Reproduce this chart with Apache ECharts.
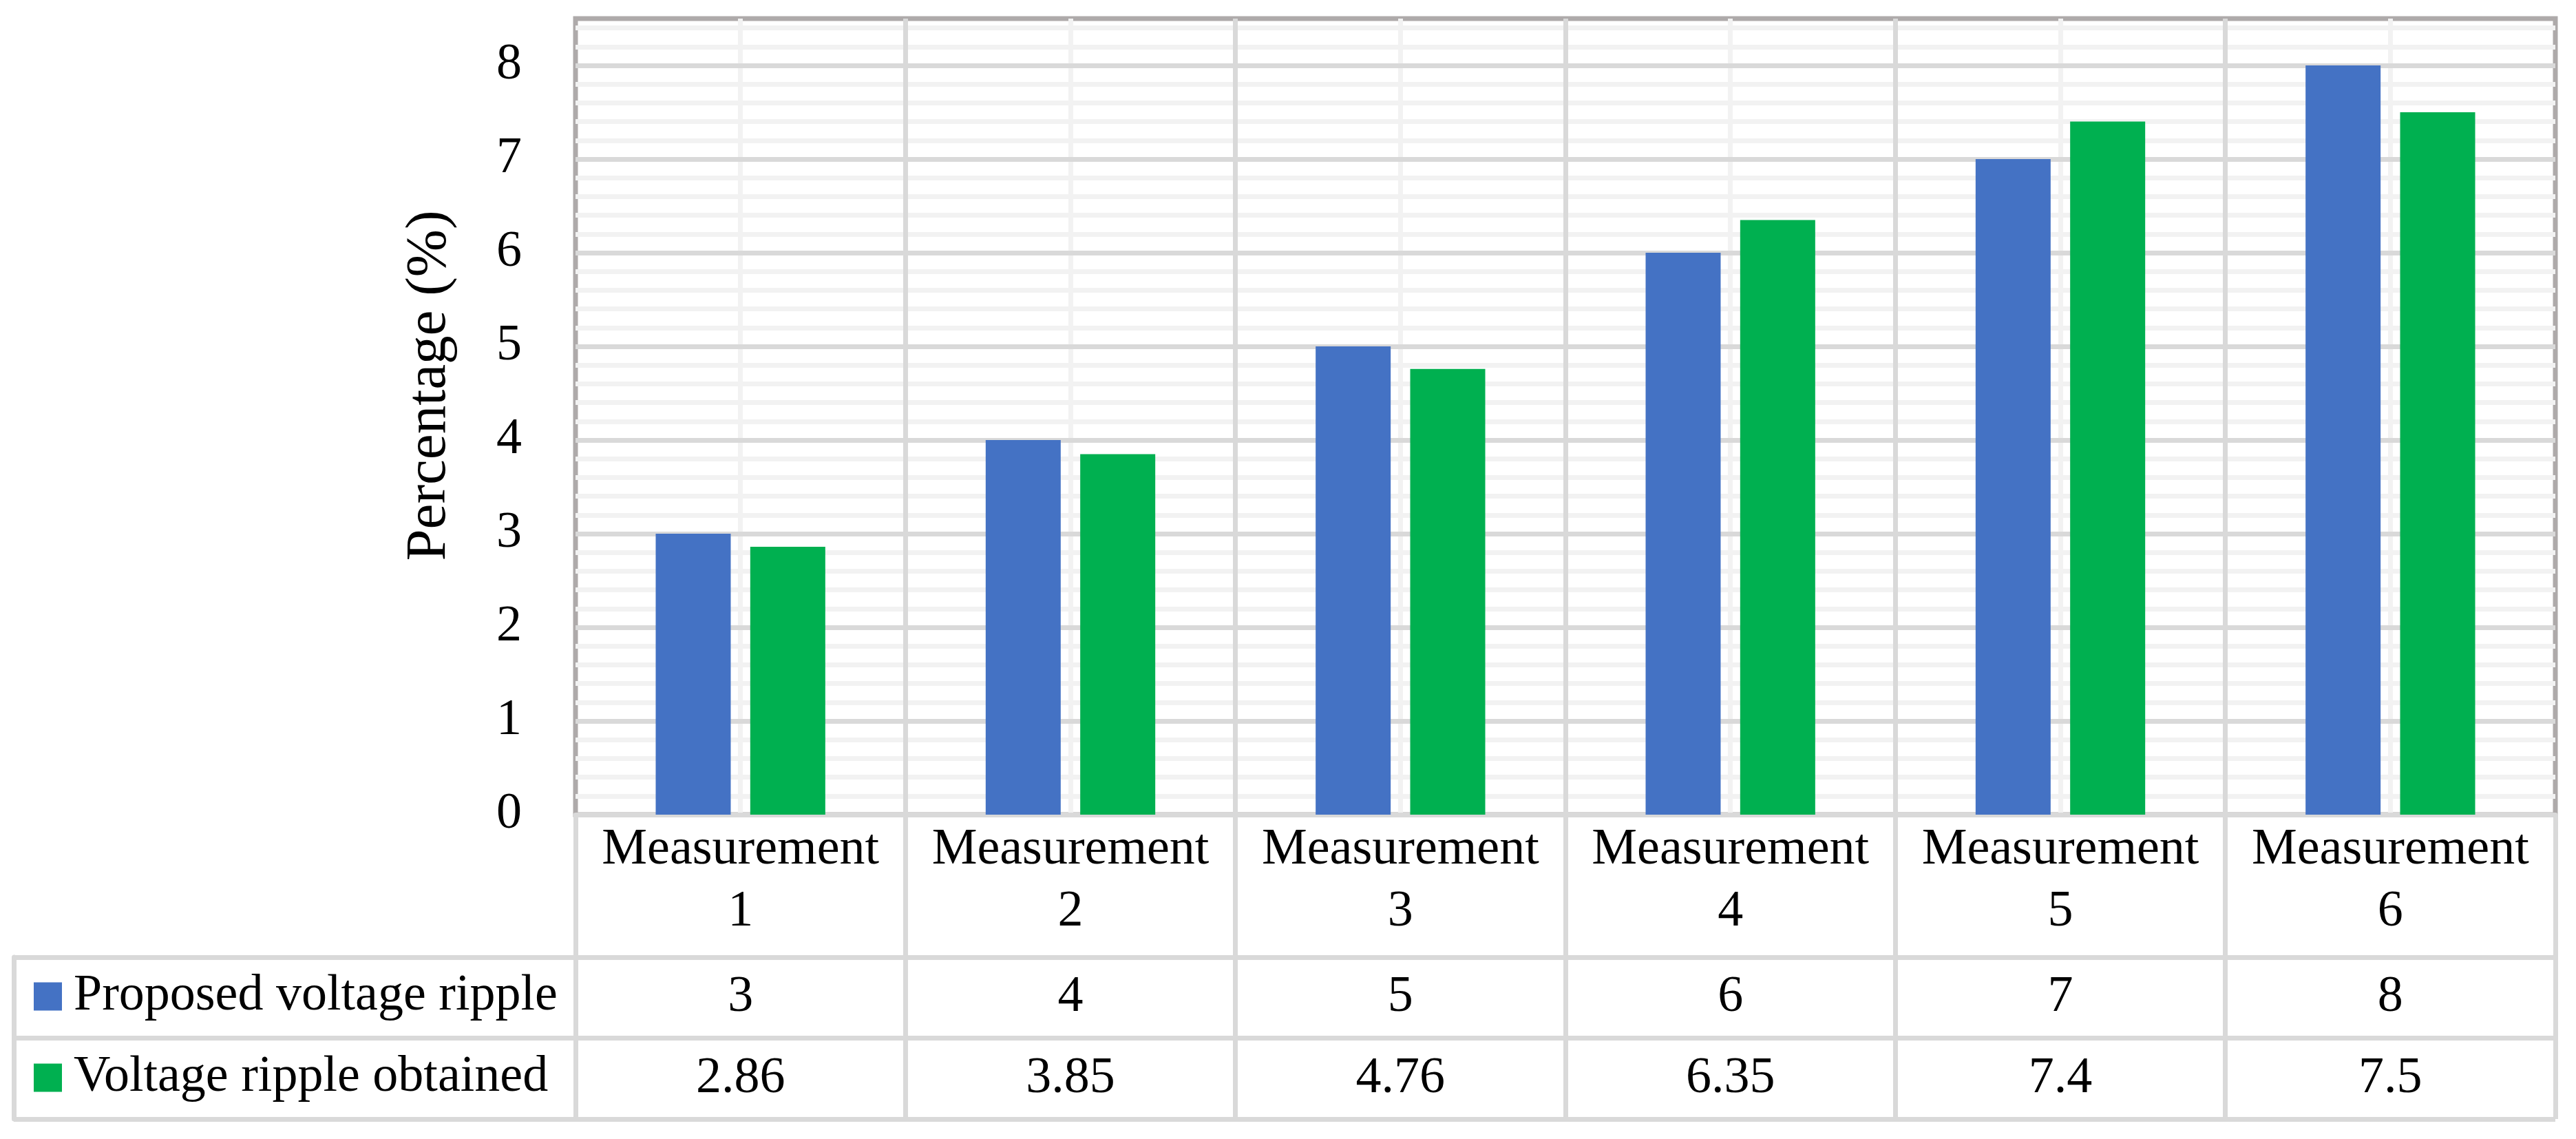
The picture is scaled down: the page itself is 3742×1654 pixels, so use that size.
<!DOCTYPE html>
<html><head><meta charset="utf-8">
<script src="https://cdn.jsdelivr.net/npm/echarts@6/dist/echarts.min.js"></script>
<style>html,body{margin:0;padding:0;background:#fff}#c{width:3742px;height:1654px}</style>
</head><body><div id="c"></div>
<script>
// ---- data ----
const categories = ['Measurement 1', 'Measurement 2', 'Measurement 3', 'Measurement 4', 'Measurement 5', 'Measurement 6'];
const seriesNames = ['Proposed voltage ripple', 'Voltage ripple obtained'];
const proposedRipple = [3, 4, 5, 6, 7, 8];
const obtainedRipple = [2.86, 3.85, 4.76, 6.35, 7.4, 7.5];
const yMin = 0, yMax = 8.5, yStep = 1, yMinorStep = 0.2;
const yTitle = 'Percentage (%)';

// ---- style ----
const FONT = 'Liberation Serif';
const BLUE = '#4472C4', GREEN = '#00B050';
const MAJOR = '#d9d9d9', MINOR = '#f2f2f2', FRAME = '#aeaaaa';
const LW = 7;
const FS = 74;

const hidden = {show: false};
const tableCellSeries = (name, vals, row) => ({
  name, type: 'scatter', xAxisIndex: 3, yAxisIndex: 3,
  data: vals.map((v, i) => [i, row, v]),
  symbolSize: 1, itemStyle: {color: 'rgba(0,0,0,0)'}, silent: true,
  emphasis: {disabled: true},
  label: {show: true, position: 'inside', formatter: p => String(p.value[2]), opacity: 1,
          fontSize: FS, fontFamily: FONT, color: '#000'}
});

const option = {
  backgroundColor: '#fff',
  animation: false,
  textStyle: {fontFamily: FONT},
  grid: [
    {left: 836, top: 27, width: 2876, height: 1156, show: true, borderColor: FRAME, borderWidth: LW, backgroundColor: 'transparent'},
    {left: 836, top: 1183, width: 2876, height: 207},
    {left: 836, top: 1390, width: 2876, height: 235},
    {left: 20, top: 1390, width: 816, height: 235}
  ],
  legend: {
    data: seriesNames, orient: 'vertical', left: 49, top: 1409, padding: 0,
    itemWidth: 41, itemHeight: 41, itemGap: 42, icon: 'rect',
    textStyle: {fontSize: FS, lineHeight: 76, fontFamily: FONT, color: '#000', padding: [0, 0, 0, 12]}
  },
  xAxis: [
    {type: 'category', gridIndex: 0, data: categories, z: 1,
     axisLine: {show: true, lineStyle: {color: MAJOR, width: LW}},
     axisTick: hidden,
     axisLabel: {interval: 0, formatter: v => v.replace(' ', '\n'), fontSize: FS, lineHeight: 90,
                 margin: 7, color: '#000', fontFamily: FONT},
     splitLine: {show: true, showMinLine: false, showMaxLine: false, lineStyle: {color: MAJOR, width: LW}}},
    {type: 'value', gridIndex: 0, min: 0, max: categories.length, interval: 1, z: 0,
     axisLine: hidden, axisTick: hidden, axisLabel: hidden, splitLine: hidden,
     minorTick: {show: false, splitNumber: 2},
     minorSplitLine: {show: true, lineStyle: {color: MINOR, width: LW}}},
    {type: 'category', gridIndex: 1, data: categories,
     axisLine: hidden, axisTick: hidden, axisLabel: hidden,
     splitLine: {show: true, lineStyle: {color: MAJOR, width: LW}}},
    {type: 'category', gridIndex: 2, data: categories,
     axisLine: hidden, axisTick: hidden, axisLabel: hidden,
     splitLine: {show: true, lineStyle: {color: MAJOR, width: LW}}},
    {type: 'value', gridIndex: 3, show: false}
  ],
  yAxis: [
    {type: 'value', gridIndex: 0, min: yMin, max: yMax, interval: yStep, z: 1,
     axisLine: hidden, axisTick: hidden,
     axisLabel: {showMaxLabel: false, fontSize: FS, color: '#000', margin: 78, fontFamily: FONT},
     splitLine: {show: true, showMaxLine: false, lineStyle: {color: MAJOR, width: LW}},
     name: yTitle, nameLocation: 'middle', nameRotate: 90, nameGap: 170,
     nameTextStyle: {fontSize: 83, color: '#000', fontFamily: FONT, padding: [0, 0, 0, 90]}},
    {type: 'value', gridIndex: 0, min: yMin, max: yMax, interval: yMinorStep, z: 0, position: 'left',
     axisLine: hidden, axisTick: hidden, axisLabel: hidden,
     splitLine: {show: true, showMaxLine: false, lineStyle: {color: MINOR, width: LW}}},
    {type: 'value', gridIndex: 1, show: false},
    {type: 'category', gridIndex: 2, data: seriesNames, inverse: true,
     axisLine: hidden, axisTick: hidden, axisLabel: hidden,
     splitLine: {show: true, lineStyle: {color: MAJOR, width: LW}}},
    {type: 'category', gridIndex: 3, data: seriesNames, inverse: true,
     axisLine: {show: true, lineStyle: {color: MAJOR, width: LW}}, axisTick: hidden, axisLabel: hidden,
     splitLine: {show: true, lineStyle: {color: MAJOR, width: LW}}}
  ],
  series: [
    {name: seriesNames[0], type: 'bar', xAxisIndex: 0, yAxisIndex: 0, data: proposedRipple,
     barWidth: 109, barGap: '26%', itemStyle: {color: BLUE}, z: 3},
    {name: seriesNames[1], type: 'bar', xAxisIndex: 0, yAxisIndex: 0, data: obtainedRipple,
     barWidth: 109, barGap: '26%', itemStyle: {color: GREEN}, z: 3},
    tableCellSeries('table proposed', proposedRipple, 0),
    tableCellSeries('table obtained', obtainedRipple, 1)
  ]
};
const chart = echarts.init(document.getElementById('c'));
chart.setOption(option);
</script>
</body></html>
